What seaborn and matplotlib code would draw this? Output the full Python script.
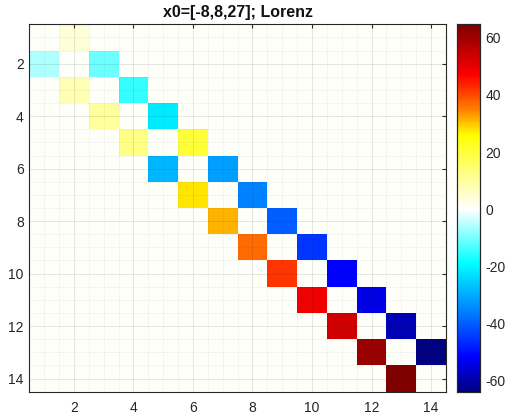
import numpy as np
import pandas as pd
import seaborn as sns
import matplotlib
matplotlib.use("Agg")
import matplotlib.pyplot as plt
from matplotlib.colors import LinearSegmentedColormap

# Matrix size and off-diagonal entries
n = 14
background_level = 0.6

# (row, col) 1-based positions and values just below the diagonal
lower_rows = [2, 3, 4, 5, 6, 7, 8, 9, 10, 11, 12, 13, 14]
lower_cols = [1, 2, 3, 4, 5, 6, 7, 8, 9, 10, 11, 12, 13]
lower_vals = [-6.0, 7.5, 10.0, 12.5, -28.5, 27.5, 31.0, 37.0, 42.0, 49.0, 53.5, 60.8, 64.7]

# just above the diagonal
upper_rows = [1, 2, 3, 4, 5, 6, 7, 8, 9, 10, 11, 12, 13]
upper_cols = [2, 3, 4, 5, 6, 7, 8, 9, 10, 11, 12, 13, 14]
upper_vals = [4.0, -10.8, -15.0, -21.7, 20.0, -31.6, -35.7, -40.0, -45.0, -52.0, -54.4, -59.0, -64.1]

tick_vals = [2, 4, 6, 8, 10, 12, 14]
cbar_ticks = [-60, -40, -20, 0, 20, 40, 60]
title = "x0=[-8,8,27]; Lorenz"

M = np.full((n, n), background_level)
for r, c, v in zip(lower_rows, lower_cols, lower_vals):
    M[r - 1, c - 1] = v
for r, c, v in zip(upper_rows, upper_cols, upper_vals):
    M[r - 1, c - 1] = v
df = pd.DataFrame(M, index=range(1, n + 1), columns=range(1, n + 1))

vmin, vmax = M.min(), M.max()

# jet-like map with white at zero
nodes = [(-64.1, (0.0, 0.0, 0.5)),
         (-52.0, (0.0, 0.0, 1.0)),
         (-36.0, (0.0, 0.5, 1.0)),
         (-19.0, (0.0, 1.0, 1.0)),
         (0.0, (1.0, 1.0, 1.0)),
         (26.0, (1.0, 1.0, 0.0)),
         (35.0, (1.0, 0.5, 0.0)),
         (47.0, (1.0, 0.0, 0.0)),
         (64.7, (0.5, 0.0, 0.0))]
cmap = LinearSegmentedColormap.from_list(
    "jetwhite", [((v - vmin) / (vmax - vmin), c) for v, c in nodes])

sns.set_style("white")
plt.rcParams["font.family"] = ["Liberation Sans", "DejaVu Sans"]

fig = plt.figure(figsize=(5.05, 4.16), dpi=100)
ax = fig.add_axes([0.058, 0.0584, 0.825, 0.8832])
cax = fig.add_axes([0.9044, 0.0570, 0.0461, 0.8846])

sns.heatmap(df, ax=ax, cbar_ax=cax, cmap=cmap, vmin=vmin, vmax=vmax,
            xticklabels=False, yticklabels=False)

major = [t - 0.5 for t in tick_vals]
minor = [p / 2 for p in range(1, 2 * n) if (p / 2) not in major]
ax.set_xticks(major)
ax.set_xticklabels([str(t) for t in tick_vals], fontsize=10, color="#262626")
ax.set_yticks(major)
ax.set_yticklabels([str(t) for t in tick_vals], fontsize=10, color="#262626",
                   rotation=0)
ax.set_xticks(minor, minor=True)
ax.set_yticks(minor, minor=True)
ax.set_xlabel("")
ax.set_ylabel("")

ax.tick_params(which="major", direction="in", length=3, width=0.8,
               color="#262626", top=True, right=True)
ax.tick_params(axis="x", which="major", pad=7)
ax.tick_params(axis="y", which="major", pad=4)
ax.tick_params(which="minor", length=0, top=True, right=True)
ax.set_axisbelow(False)
ax.grid(which="major", color="#262626", alpha=0.13, linewidth=0.6,
        linestyle="-")
ax.grid(which="minor", color="#262626", alpha=0.18, linewidth=0.5,
        linestyle=(0, (1, 2)))

for s in ax.spines.values():
    s.set_visible(True)
    s.set_color("#262626")
    s.set_linewidth(0.8)

ax.set_title(title, fontsize=11.5, fontweight="bold", pad=5, color="#111111")

cax.set_yticks(cbar_ticks)
cax.set_yticklabels([str(t) for t in cbar_ticks])
cax.tick_params(direction="in", length=2.5, width=0.8, labelsize=10,
                color="#262626", labelcolor="#262626", pad=4)
for s in cax.spines.values():
    s.set_visible(True)
    s.set_color("#262626")
    s.set_linewidth(0.8)

fig.savefig("out.png", dpi=100)
